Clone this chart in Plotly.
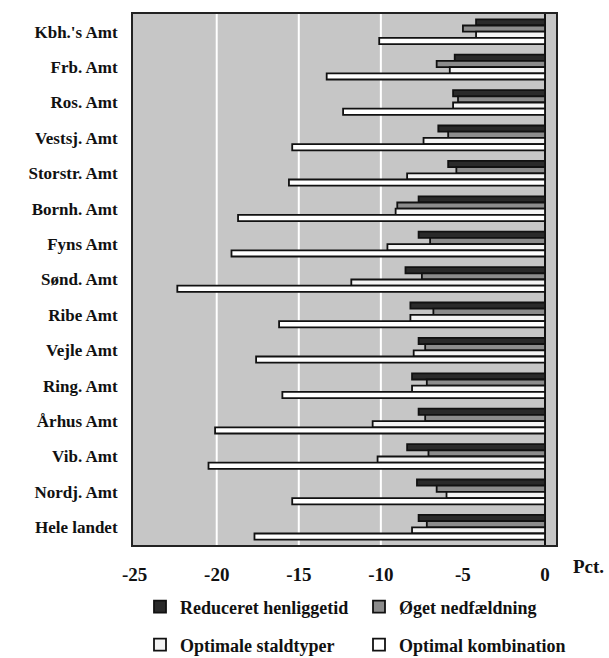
import plotly.graph_objects as go

categories = ["Kbh.'s Amt", "Frb. Amt", "Ros. Amt", "Vestsj. Amt", "Storstr. Amt",
              "Bornh. Amt", "Fyns Amt", "Sønd. Amt", "Ribe Amt", "Vejle Amt",
              "Ring. Amt", "Århus Amt", "Vib. Amt", "Nordj. Amt", "Hele landet"]

reduceret = [-4.2, -5.5, -5.6, -6.5, -5.9, -7.7, -7.7, -8.5, -8.2, -7.7, -8.1, -7.7, -8.4, -7.8, -7.7]
oeget = [-5.0, -6.6, -5.3, -5.9, -5.4, -9.0, -7.0, -7.5, -6.8, -7.3, -7.2, -7.3, -7.1, -6.6, -7.2]
staldtyper = [-4.2, -5.8, -5.6, -7.4, -8.4, -9.1, -9.6, -11.8, -8.2, -8.0, -8.1, -10.5, -10.2, -6.0, -8.1]
kombination = [-10.1, -13.3, -12.3, -15.4, -15.6, -18.7, -19.1, -22.4, -16.2, -17.6, -16.0, -20.1, -20.5, -15.4, -17.7]

tick_vals = [-25, -20, -15, -10, -5, 0]
tick_text = ["-25", "-20", "-15", "-10", "-5", "0"]
grid_vals = [-20, -15, -10]

series = [
    ("Reduceret henliggetid", reduceret, "#2a2a2a", "legend"),
    ("Øget nedfældning", oeget, "#8c8c8c", "legend2"),
    ("Optimale staldtyper", staldtyper, "#f4f4f4", "legend3"),
    ("Optimal kombination", kombination, "#ffffff", "legend4"),
]

fig = go.Figure()
for name, vals, col, lg in series:
    fig.add_trace(go.Bar(
        y=categories, x=vals, name=name, orientation="h", legend=lg,
        marker=dict(color=col, line=dict(color="#111111", width=1.8)),
    ))

for gv in grid_vals:
    fig.add_shape(type="line", xref="x", yref="paper", x0=gv, x1=gv, y0=0, y1=1,
                  line=dict(color="white", width=2), layer="below")

font_family = "Liberation Serif, Times New Roman, serif"
legend_font = dict(family=font_family, size=18, weight="bold", color="#111111")


def legend_at(px, py):
    return dict(
        orientation="h",
        xref="container", yref="container",
        x=px / 609, y=1 - py / 658, xanchor="left", yanchor="middle",
        font=legend_font, itemwidth=30, bgcolor="rgba(0,0,0,0)",
    )


fig.update_layout(
    width=609, height=658,
    margin=dict(l=133, r=53, t=14, b=113),
    paper_bgcolor="white",
    plot_bgcolor="#c6c6c6",
    barmode="group",
    bargap=0.3,
    bargroupgap=0.0,
    font=dict(family=font_family, color="#111111", size=16, weight="bold"),
    showlegend=True,
    legend=legend_at(140, 607),
    legend2=legend_at(359, 607),
    legend3=legend_at(140, 645),
    legend4=legend_at(359, 645),
    xaxis=dict(
        range=[-25.1, 0.67],
        tickvals=tick_vals, ticktext=tick_text,
        tickfont=dict(family=font_family, size=19, weight="bold"),
        showgrid=False,
        zeroline=True, zerolinecolor="#111111", zerolinewidth=2,
        showline=True, mirror=True, linecolor="#222222", linewidth=2,
        ticks="", ticklabelstandoff=11, automargin=False,
    ),
    yaxis=dict(
        autorange="reversed",
        tickfont=dict(family=font_family, size=17, weight="bold"),
        showgrid=False,
        showline=True, mirror=True, linecolor="#222222", linewidth=2,
        ticks="", ticklabelstandoff=10, automargin=False,
    ),
    annotations=[dict(
        text="Pct.", xref="paper", yref="paper",
        x=1.035, y=-0.04, xanchor="left", yanchor="middle",
        showarrow=False,
        font=dict(family=font_family, size=19, weight="bold", color="#111111"),
    )],
)

fig.write_html("out.html", config={"displayModeBar": False},
               post_script="document.body.style.margin='0';")
